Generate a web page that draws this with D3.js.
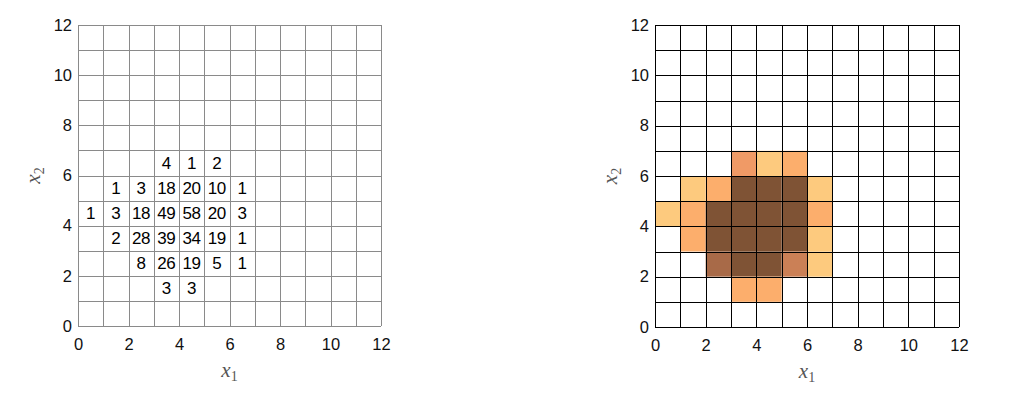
<!DOCTYPE html>
<html>
<head>
<meta charset="utf-8">
<script src="https://cdn.jsdelivr.net/npm/d3@7"></script>
<style>
  body { margin: 0; background: #fff; }
  svg { display: block; }
  .tick text { font-family: "Liberation Sans", Arial, sans-serif; font-size: 16.5px; fill: #111; }
  .count { font-family: "Liberation Sans", Arial, sans-serif; font-size: 17px; fill: #000; letter-spacing: -0.3px; }
  .lab { font-family: "Liberation Serif", "DejaVu Serif", serif; font-style: italic; font-size: 21px; fill: #555; }
</style>
</head>
<body>
<svg width="1036" height="397"></svg>
<script>
// grid extent and tick labels
const domainMax = 12
const tickValues = [0, 2, 4, 6, 8, 10, 12]
const gridValues = d3.range(0, 13)

// counts per row, top row first (cell x index 0..6)
const rowY = [6, 5, 4, 3, 2, 1]
const countRows = [
  [null, null, null, 4, 1, 2, null],
  [null, 1, 3, 18, 20, 10, 1],
  [1, 3, 18, 49, 58, 20, 3],
  [null, 2, 28, 39, 34, 19, 1],
  [null, null, 8, 26, 19, 5, 1],
  [null, null, null, 3, 3, null, null]
]

// colour bins for the right panel
const colorBreaks = [2, 4, 5, 6, 10]
const colorSteps = ['#fdca7e', '#fcae6c', '#f09a66', '#cb8056', '#a86a48', '#7f5335']

const cells = []
countRows.forEach((row, i) => {
  row.forEach((v, j) => {
    if (v != null) cells.push({ x: j, y: rowY[i], n: v })
  })
})

const svg = d3.select('svg')
const color = d3.scaleThreshold().domain(colorBreaks).range(colorSteps)

function panel(box, opts) {
  const x = d3.scaleLinear().domain([0, domainMax]).range([box.left, box.right])
  const y = d3.scaleLinear().domain([0, domainMax]).range([box.bottom, box.top])
  const g = svg.append('g')

  if (opts.fill) {
    g.selectAll('rect.cell')
      .data(cells)
      .enter()
      .append('rect')
        .attr('class', 'cell')
        .attr('x', d => x(d.x))
        .attr('y', d => y(d.y + 1))
        .attr('width', d => x(d.x + 1) - x(d.x))
        .attr('height', d => y(d.y) - y(d.y + 1))
        .attr('fill', d => color(d.n))
  }

  // grid lines
  g.selectAll('line.v')
    .data(gridValues)
    .enter()
    .append('line')
      .attr('x1', d => Math.round(x(d)) + 0.5)
      .attr('x2', d => Math.round(x(d)) + 0.5)
      .attr('y1', y(0))
      .attr('y2', y(domainMax))
      .attr('stroke', opts.grid)
      .attr('stroke-width', 1)
  g.selectAll('line.h')
    .data(gridValues)
    .enter()
    .append('line')
      .attr('x1', x(0))
      .attr('x2', x(domainMax))
      .attr('y1', d => Math.round(y(d)) + 0.5)
      .attr('y2', d => Math.round(y(d)) + 0.5)
      .attr('stroke', opts.grid)
      .attr('stroke-width', 1)

  if (opts.text) {
    g.selectAll('text.count')
      .data(cells)
      .enter()
      .append('text')
        .attr('class', 'count')
        .attr('x', d => x(d.x + 0.5))
        .attr('y', d => y(d.y + 0.5))
        .attr('text-anchor', 'middle')
        .attr('dy', '0.36em')
        .text(d => d.n)
  }

  // axes (labels only)
  const ax = g.append('g')
    .attr('transform', 'translate(0,' + box.bottom + ')')
    .call(d3.axisBottom(x).tickValues(tickValues).tickSize(0).tickPadding(12).tickFormat(d3.format('d')))
  ax.select('.domain').remove()
  const ay = g.append('g')
    .attr('transform', 'translate(' + box.left + ',0)')
    .call(d3.axisLeft(y).tickValues(tickValues).tickSize(0).tickPadding(6).tickFormat(d3.format('d')))
  ay.select('.domain').remove()

  const xl = g.append('text')
    .attr('class', 'lab')
    .attr('x', (box.left + box.right) / 2)
    .attr('y', box.bottom + 51)
    .attr('text-anchor', 'middle')
  xl.append('tspan').text('x')
  xl.append('tspan').attr('font-size', 14).attr('font-style', 'normal').attr('dy', 4).text('1')

  const yl = g.append('text')
    .attr('class', 'lab')
    .attr('transform', 'translate(' + (box.left - 38) + ',' + ((box.top + box.bottom) / 2) + ') rotate(-90)')
    .attr('text-anchor', 'middle')
  yl.append('tspan').text('x')
  yl.append('tspan').attr('font-size', 14).attr('font-style', 'normal').attr('dy', 4).text('2')
}

panel({ left: 78, right: 381, top: 25, bottom: 326 }, { grid: '#8a8a8a', text: true })
panel({ left: 655, right: 959, top: 25, bottom: 327 }, { grid: '#000', fill: true })
</script>
</body>
</html>
